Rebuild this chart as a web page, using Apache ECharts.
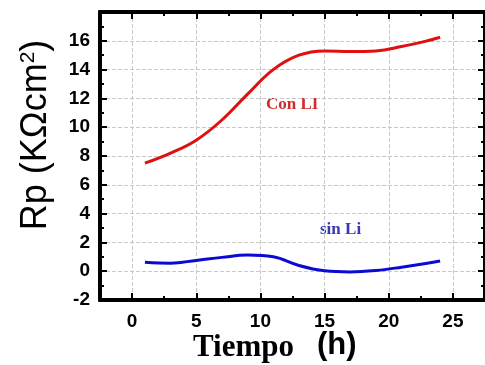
<!DOCTYPE html>
<html>
<head>
<meta charset="utf-8">
<script src="https://cdn.jsdelivr.net/npm/echarts@6/dist/echarts.min.js"></script>
<style>
  html, body { margin: 0; padding: 0; background: #fff; }
  #chart { width: 485px; height: 365px; }
</style>
</head>
<body>
<div id="chart"></div>
<script>
// data
const hours = [1, 3, 5, 7, 9, 11, 13, 15, 17, 19, 21, 23, 24];
const conLi = [7.5, 8.2, 9.1, 10.5, 12.3, 14.0, 15.0, 15.3, 15.25, 15.3, 15.6, 16.0, 16.25];
const sinLi = [0.62, 0.56, 0.75, 0.96, 1.12, 1.0, 0.4, 0.03, -0.05, 0.05, 0.28, 0.55, 0.71];
const xMajor = [0, 5, 10, 15, 20, 25];
const xMinor = [2.5, 7.5, 12.5, 17.5, 22.5];

const chart = echarts.init(document.getElementById("chart"));

const pair = (xs, ys) => xs.map((x, i) => [x, ys[i]]);
const lbl = { fontFamily: "Liberation Sans", fontWeight: "bold", fontSize: 19, color: "#000" };
const axLine = { show: true, onZero: false, lineStyle: { color: "#000", width: 4 } };
const tickStyle = { width: 2, color: "#000" };
const grid = { type: "dashed", color: "#c8c8c8", width: 1 };

const xBase = { type: "value", min: -2.5, max: 27.5, axisLine: axLine, splitLine: { show: false } };

const option = {
  animation: false,
  grid: { left: 100, right: -7, top: 12, bottom: 65 },
  xAxis: [
    {
      ...xBase, position: "bottom",
      axisTick: { show: true, inside: true, length: 7, customValues: xMajor, lineStyle: tickStyle },
      axisLabel: { ...lbl, margin: 12, customValues: xMajor },
      splitLine: { show: true, lineStyle: grid }
    },
    {
      ...xBase, position: "bottom",
      axisTick: { show: true, inside: true, length: 4, customValues: xMinor, lineStyle: tickStyle },
      axisLabel: { show: false }
    },
    {
      ...xBase, position: "top",
      axisTick: { show: true, inside: true, length: 7, customValues: xMajor, lineStyle: tickStyle },
      axisLabel: { show: false }
    },
    {
      ...xBase, position: "top",
      axisTick: { show: true, inside: true, length: 4, customValues: xMinor, lineStyle: tickStyle },
      axisLabel: { show: false }
    }
  ],
  yAxis: [
    {
      type: "value", min: -2, max: 18, interval: 2, position: "left",
      axisLine: axLine,
      axisTick: { show: true, inside: true, length: 7, lineStyle: tickStyle },
      minorTick: { show: true, splitNumber: 2, length: 4, lineStyle: tickStyle },
      axisLabel: { ...lbl, margin: 10, formatter: (v) => (v > 16 ? "" : v) },
      splitLine: { show: true, lineStyle: grid }
    },
    {
      type: "value", min: -2, max: 18, interval: 2, position: "right",
      axisLine: axLine,
      axisTick: { show: true, inside: true, length: 7, lineStyle: tickStyle },
      minorTick: { show: true, splitNumber: 2, length: 4, lineStyle: tickStyle },
      axisLabel: { show: false },
      splitLine: { show: false }
    }
  ],
  series: [
    {
      name: "Con LI", type: "line", smooth: 0.4, showSymbol: false,
      data: pair(hours, conLi),
      lineStyle: { color: "#e01010", width: 3 }
    },
    {
      name: "sin Li", type: "line", smooth: 0.4, showSymbol: false,
      data: pair(hours, sinLi),
      lineStyle: { color: "#0a0ad2", width: 3 }
    }
  ],
  graphic: [
    {
      type: "text", left: 266, top: 96,
      style: { text: "Con LI", font: "bold 17px 'Liberation Serif'", fill: "#d42a2a" }
    },
    {
      type: "text", left: 320, top: 221,
      style: { text: "sin Li", font: "bold 17px 'Liberation Serif'", fill: "#3838b4" }
    },
    {
      type: "text", x: 36, y: 135, rotation: Math.PI / 2,
      style: {
        text: "{a|Rp (KΩcm}{s|2}{a|)}",
        align: "center", verticalAlign: "middle",
        rich: {
          a: { font: "normal 36px 'Liberation Sans'", fill: "#000" },
          s: { font: "normal 21px 'Liberation Sans'", fill: "#000", verticalAlign: "top", padding: [0, 0, 14, 0] }
        }
      }
    },
    {
      type: "text", left: 193, top: 332,
      style: { text: "Tiempo", font: "bold 31px 'Liberation Serif'", fill: "#000" }
    },
    {
      type: "text", left: 317, top: 330,
      style: { text: "(h)", font: "bold 31px 'Liberation Sans'", fill: "#000" }
    }
  ]
};

chart.setOption(option);
</script>
</body>
</html>
